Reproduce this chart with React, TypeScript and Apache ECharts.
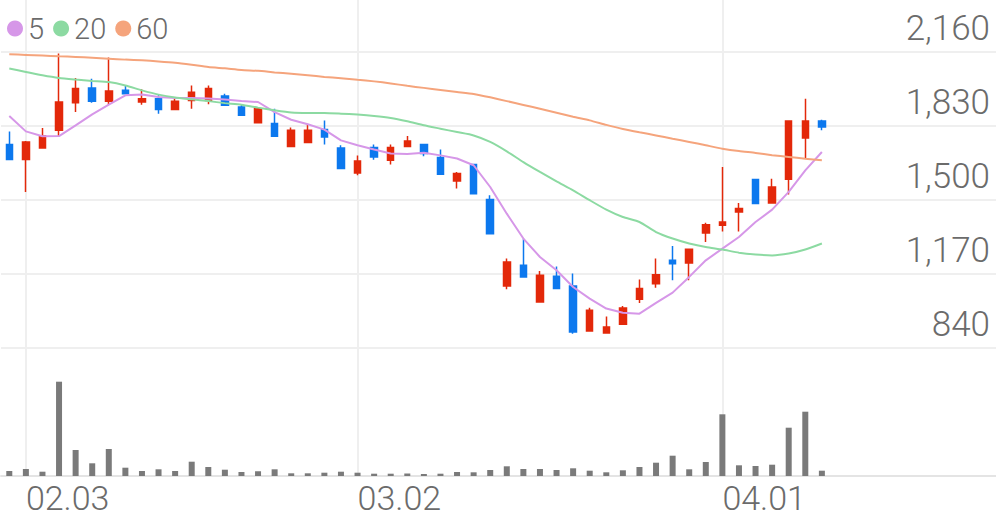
import React, { useEffect, useRef } from "react";
import * as echarts from "echarts";

const dates = [
  "01.31", "02.03", "02.04", "02.05", "02.06", "02.07", "02.10", "02.11", "02.12", "02.13",
  "02.14", "02.17", "02.18", "02.19", "02.20", "02.21", "02.24", "02.25", "02.26", "02.27",
  "02.28", "03.02", "03.03", "03.04", "03.05", "03.06", "03.09", "03.10", "03.11", "03.12",
  "03.13", "03.16", "03.17", "03.18", "03.19", "03.20", "03.23", "03.24", "03.25", "03.26",
  "03.27", "03.30", "03.31", "04.01", "04.02", "04.03", "04.06", "04.07", "04.08", "04.09",
];
const futureDates = ["04.10", "04.13", "04.14", "04.16", "04.17", "04.20", "04.21", "04.22", "04.23", "04.24"];
const monthStarts = ["02.03", "03.02", "04.01"];

const opens = [
  1748, 1681, 1732, 1811, 1934, 2000, 1940, 1989, 1937, 1952,
  1904, 1944, 1944, 1964, 1915, 1845, 1841, 1739, 1756, 1814,
  1732, 1620, 1734, 1677, 1739, 1747, 1689, 1585, 1658, 1502,
  1116, 1209, 1045, 1160, 1116, 916, 907, 946, 1057, 1127,
  1231, 1219, 1353, 1387, 1446, 1591, 1487, 1592, 1776, 1852,
];
const closes = [
  1681, 1759, 1785, 1937, 1997, 1940, 1986, 1974, 1952, 1904,
  1940, 1981, 1997, 1922, 1878, 1907, 1784, 1811, 1811, 1781,
  1640, 1674, 1692, 1734, 1763, 1707, 1615, 1618, 1528, 1350,
  1223, 1157, 1164, 1105, 911, 1008, 934, 1018, 1105, 1167,
  1216, 1280, 1390, 1402, 1462, 1484, 1558, 1852, 1852, 1825,
];
const lows = [
  1681, 1536, 1730, 1785, 1892, 1934, 1925, 1970, 1925, 1885,
  1900, 1907, 1927, 1919, 1875, 1843, 1784, 1739, 1756, 1748,
  1640, 1610, 1680, 1658, 1739, 1695, 1615, 1551, 1525, 1350,
  1102, 1157, 1045, 1105, 904, 914, 907, 946, 1041, 1109,
  1142, 1142, 1313, 1360, 1360, 1481, 1485, 1525, 1685, 1811,
];
const highs = [
  1806, 1763, 1821, 2153, 2044, 2041, 2135, 2008, 1994, 1967,
  1952, 2011, 2011, 1974, 1927, 1912, 1907, 1823, 1836, 1855,
  1744, 1699, 1748, 1748, 1785, 1750, 1725, 1625, 1662, 1521,
  1239, 1328, 1183, 1204, 1172, 1020, 981, 1027, 1145, 1239,
  1295, 1282, 1399, 1647, 1487, 1595, 1595, 1852, 1952, 1858,
];
const volumes = [
  50, 70, 43, 943, 260, 127, 270, 83, 50, 67,
  50, 143, 90, 63, 40, 47, 67, 27, 27, 33,
  43, 33, 23, 23, 25, 20, 23, 40, 37, 60,
  97, 70, 70, 60, 77, 53, 37, 57, 90, 133,
  203, 67, 140, 617, 107, 100, 113, 483, 643, 53,
];
const ma5 = [
  1875, 1806, 1784, 1785, 1833, 1882, 1925, 1967, 1970, 1959,
  1955, 1955, 1953, 1948, 1941, 1937, 1892, 1858, 1838, 1814,
  1766, 1744, 1725, 1707, 1705, 1711, 1699, 1685, 1655, 1558,
  1439, 1328, 1246, 1187, 1112, 1060, 1016, 997, 993, 1041,
  1087, 1157, 1231, 1283, 1335, 1402, 1457, 1536, 1632, 1714,
];
const ma20 = [
  2086, 2071, 2056, 2044, 2037, 2031, 2026, 2011, 1989, 1970,
  1957, 1949, 1941, 1932, 1925, 1912, 1900, 1890, 1888, 1888,
  1885, 1881, 1875, 1866, 1851, 1833, 1818, 1803, 1788, 1759,
  1717, 1669, 1625, 1583, 1543, 1499, 1457, 1424, 1402, 1357,
  1328, 1306, 1290, 1279, 1265, 1257, 1253, 1261, 1279, 1306,
];
const ma60 = [
  2150, 2147, 2144, 2141, 2138, 2134, 2130, 2126, 2123, 2118,
  2112, 2103, 2093, 2087, 2080, 2076, 2069, 2063, 2056, 2049,
  2043, 2036, 2029, 2020, 2009, 2000, 1991, 1982, 1973, 1958,
  1941, 1924, 1907, 1889, 1871, 1855, 1835, 1817, 1802, 1788,
  1773, 1759, 1744, 1729, 1718, 1710, 1700, 1692, 1684, 1677,
];

const RED = "#e3280a";
const BLUE = "#0c78ee";
const TEXT = "#6b6b6b";
const FONT = "Roboto";

export default function App() {
  const ref = useRef<HTMLDivElement>(null);
  useEffect(() => {
    if (!ref.current) return;
    const chart = echarts.init(ref.current, null, { renderer: "svg" });
    const cats = [...dates, ...futureDates];
    const candles = dates.map((_, i) => [opens[i], closes[i], lows[i], highs[i]]);
    const isMonthStart = (_i: number, v: string) => monthStarts.includes(v);
    chart.setOption({
      animation: false,
      backgroundColor: "#ffffff",
      legend: {
        data: ["5", "20", "60"],
        left: 2,
        top: 9,
        icon: "circle",
        itemWidth: 16,
        itemHeight: 16,
        itemGap: 9,
        textStyle: { fontSize: 29, color: TEXT, fontFamily: FONT, fontWeight: 300 },
      },
      grid: [
        { left: 1, right: 0, top: 52, height: 296, containLabel: false },
        { left: 1, right: 0, top: 0, bottom: 43, containLabel: false },
      ],
      xAxis: [
        {
          type: "category",
          gridIndex: 0,
          data: cats,
          boundaryGap: true,
          axisLine: { show: false },
          axisTick: { show: false },
          axisLabel: { show: false },
          splitLine: { show: false },
        },
        {
          type: "category",
          gridIndex: 1,
          data: cats,
          boundaryGap: true,
          axisLine: { show: true, lineStyle: { color: "#e4e4e4", width: 2 } },
          axisTick: { show: false, alignWithLabel: true, interval: isMonthStart },
          axisLabel: {
            show: true,
            interval: isMonthStart,
            align: "left",
            margin: 8,
            lineHeight: 27,
            fontSize: 34,
            color: TEXT,
            fontFamily: FONT,
            fontWeight: 300,
          },
          splitLine: {
            show: true,
            alignWithLabel: true,
            interval: isMonthStart,
            lineStyle: { color: "#efefef", width: 2 },
          },
        },
      ],
      yAxis: [
        {
          type: "value",
          gridIndex: 0,
          position: "right",
          min: 840,
          max: 2160,
          interval: 330,
          axisLine: { show: false },
          axisTick: { show: false },
          splitLine: { show: true, lineStyle: { color: "#efefef", width: 2 } },
          axisLabel: {
            inside: true,
            margin: 6,
            verticalAlign: "bottom",
            padding: [0, 0, 6, 0],
            fontSize: 35,
            color: TEXT,
            fontFamily: FONT,
            fontWeight: 300,
            formatter: (v: number) => v.toLocaleString("en-US"),
          },
        },
        {
          type: "value",
          gridIndex: 1,
          min: 0,
          max: 4760,
          show: false,
          splitLine: { show: false },
        },
      ],
      series: [
        {
          name: "volume",
          type: "bar",
          xAxisIndex: 1,
          yAxisIndex: 1,
          data: volumes,
          barWidth: 6,
          itemStyle: { color: "#7a7a7a" },
          silent: true,
        },
        {
          name: "price",
          type: "candlestick",
          xAxisIndex: 0,
          yAxisIndex: 0,
          data: candles,
          barWidth: 7,
          itemStyle: {
            color: RED,
            color0: BLUE,
            borderColor: RED,
            borderColor0: BLUE,
            borderWidth: 1.5,
          },
        },
        {
          name: "5",
          type: "line",
          xAxisIndex: 0,
          yAxisIndex: 0,
          data: ma5,
          showSymbol: false,
          itemStyle: { color: "#d697e8" },
          lineStyle: { color: "#d697e8", width: 2 },
          z: 3,
        },
        {
          name: "20",
          type: "line",
          xAxisIndex: 0,
          yAxisIndex: 0,
          data: ma20,
          showSymbol: false,
          smooth: 0.2,
          itemStyle: { color: "#8cdaa2" },
          lineStyle: { color: "#8cdaa2", width: 2 },
          z: 3,
        },
        {
          name: "60",
          type: "line",
          xAxisIndex: 0,
          yAxisIndex: 0,
          data: ma60,
          showSymbol: false,
          smooth: 0.2,
          itemStyle: { color: "#f5a47c" },
          lineStyle: { color: "#f5a47c", width: 2 },
          z: 3,
        },
      ],
    });
    return () => chart.dispose();
  }, []);
  return (
    <div
      ref={ref}
      style={{ position: "absolute", left: 0, top: 0, width: 996, height: 519 }}
    />
  );
}
